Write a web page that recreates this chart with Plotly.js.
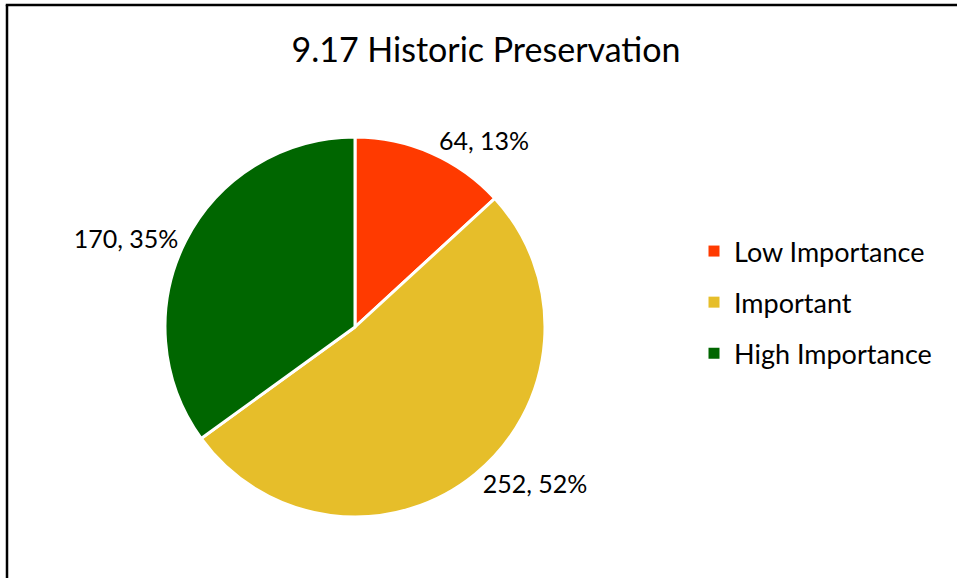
<!DOCTYPE html>
<html>
<head>
<meta charset="utf-8">
<script src="https://cdn.plot.ly/plotly-3.0.1.min.js"></script>
<style>
html,body{margin:0;padding:0;background:#fff;}
#chart{width:957px;height:578px;}
</style>
</head>
<body>
<div id="chart"></div>
<script>
const titleText = "9.17 Historic Preservation";
const categories = ["Low Importance", "Important", "High Importance"];
const counts = [64, 252, 170];
const sliceColors = ["#FF3A00", "#E6BE2A", "#006600"];

const W = 957, H = 578;
const FONT = "Lato, 'Open Sans', sans-serif";

const pieTrace = {
  type: "pie",
  labels: categories,
  values: counts,
  sort: false,
  direction: "clockwise",
  rotation: 0,
  showlegend: false,
  marker: {colors: sliceColors, line: {color: "#ffffff", width: 3}},
  texttemplate: "%{value}, %{percent:.0%}",
  textposition: "outside",
  textfont: {family: FONT, size: 25, color: "#000"},
  hoverinfo: "label+value+percent",
  domain: {x: [165 / W, 545 / W], y: [1 - 517 / H, 1 - 137 / H]},
  automargin: false
};

// legend entries (one per category) so each can be spaced like the original
const legendTraces = categories.map((c, i) => ({
  type: "scatter",
  mode: "markers",
  x: [null], y: [null],
  name: c,
  legendgroup: "g" + i,
  marker: {symbol: "square", size: 11, color: sliceColors[i]},
  hoverinfo: "skip",
  showlegend: true
}));

const layout = {
  width: W, height: H,
  margin: {l: 0, r: 0, t: 0, b: 0},
  paper_bgcolor: "#fff",
  plot_bgcolor: "rgba(0,0,0,0)",
  font: {family: FONT, color: "#000"},
  xaxis: {visible: false, domain: [0.99, 1]},
  yaxis: {visible: false, domain: [0.99, 1]},
  title: {text: titleText, font: {family: FONT, size: 34, color: "#000"}, x: 486 / W, xanchor: "center", y: 1 - 50 / H, yanchor: "middle", xref: "paper", yref: "paper"},
  showlegend: true,
  legend: {
    x: 694 / W, xanchor: "left", y: 1 - 227 / H, yanchor: "top",
    font: {family: FONT, size: 27, color: "#000"},
    traceorder: "grouped", tracegroupgap: 13,
    bgcolor: "rgba(0,0,0,0)"
  },
  shapes: [
    {type: "line", xref: "paper", yref: "paper", x0: 7 / W, x1: 7 / W, y0: -0.05, y1: 1 - 5 / H, line: {color: "#000", width: 2.5}},
    {type: "line", xref: "paper", yref: "paper", x0: 7 / W - 1.25 / W, x1: 1.05, y0: 1 - 5 / H, y1: 1 - 5 / H, line: {color: "#000", width: 2.5}}
  ]
};

Plotly.newPlot("chart", [pieTrace].concat(legendTraces), layout, {displayModeBar: false, staticPlot: true});
</script>
</body>
</html>
